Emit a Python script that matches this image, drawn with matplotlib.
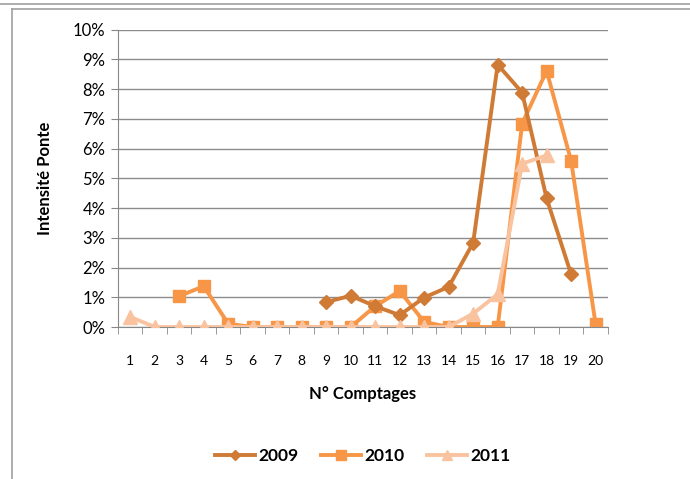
import matplotlib
matplotlib.use('Agg')
import matplotlib.pyplot as plt
from matplotlib.lines import Line2D
import numpy as np

plt.rcParams['font.family'] = ['Lato', 'DejaVu Sans']

comptages = list(range(1, 21))

x2009 = [9, 10, 11, 12, 13, 14, 15, 16, 17, 18, 19]
y2009 = [0.84, 1.05, 0.70, 0.40, 0.99, 1.35, 2.83, 8.82, 7.88, 4.32, 1.77]

x2010 = [3, 4, 5, 6, 7, 8, 9, 10, 11, 12, 13, 14, 15, 16, 17, 18, 19, 20]
y2010 = [1.04, 1.37, 0.11, 0, 0, 0, 0, 0, 0.70, 1.21, 0.17, 0, 0, 0, 6.84, 8.61, 5.58, 0.09]

x2011 = [1, 2, 3, 4, 5, 6, 7, 8, 9, 10, 11, 12, 13, 14, 15, 16, 17, 18]
y2011 = [0.34, 0, 0, 0, 0, 0, 0, 0, 0, 0, 0, 0, 0, 0, 0.45, 1.10, 5.49, 5.77]

c2009 = '#CF7A35'
c2010 = '#F79646'
c2011 = '#FAC3A0'

fig = plt.figure(figsize=(6.9, 4.79), dpi=100)
ax = fig.add_axes([0.171, 0.3173, 0.71, 0.6211])

ax.plot(x2009, y2009, color=c2009, lw=2.8, marker='D', ms=7, zorder=3, label='2009')
ax.plot(x2010, y2010, color=c2010, lw=2.8, marker='s', ms=9, zorder=2, label='2010')
ax.plot(x2011, y2011, color=c2011, lw=2.8, marker='^', ms=10, zorder=4, label='2011')

ax.set_xlim(0.5, 20.5)
ax.set_ylim(0, 10)
ax.set_yticks(range(0, 11))
ax.set_yticklabels(['%d%%' % v for v in range(0, 11)], fontsize=12)
ax.set_xticks(comptages)
ax.set_xticklabels([str(c) for c in comptages], fontsize=10)
ax.set_xticks(np.arange(0.5, 21, 1), minor=True)
ax.tick_params(axis='x', which='major', length=0, pad=20)
ax.tick_params(axis='x', which='minor', length=5, color='#888888', direction='out')
ax.tick_params(axis='y', length=5, color='#888888', pad=4)

ax.grid(axis='y', color='#8c8c8c', lw=1)
ax.set_axisbelow(True)
for s in ['top', 'right']:
    ax.spines[s].set_visible(False)
ax.spines['left'].set_color('#888888')
ax.spines['bottom'].set_color('#888888')

ax.set_ylabel('Intensité Ponte', fontsize=12, fontweight='bold', labelpad=14)
ax.set_xlabel('N° Comptages', fontsize=12, fontweight='bold', labelpad=14)

leg = ax.legend(loc='center', bbox_to_anchor=(0.5, -0.435), ncol=3, frameon=False,
                prop={'size': 12.5, 'weight': 'bold'}, handlelength=2.3, columnspacing=1.3,
                handletextpad=0.2, markerscale=0.75)

# outer frame lines
fig.add_artist(Line2D([0, 1], [1 - 4 / 479, 1 - 4 / 479], color='#a0a0a0', lw=1.2))
fig.add_artist(Line2D([12 / 690, 1], [1 - 9 / 479, 1 - 9 / 479], color='#a0a0a0', lw=1.2))
fig.add_artist(Line2D([12 / 690, 12 / 690], [0, 1 - 9 / 479], color='#a0a0a0', lw=1.2))

fig.savefig('out.png', dpi=100)
